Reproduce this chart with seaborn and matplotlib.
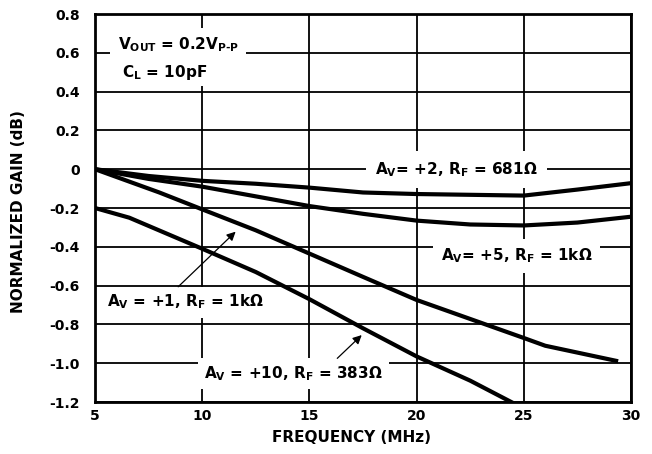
import matplotlib
matplotlib.use("Agg")
import matplotlib.pyplot as plt
import numpy as np
import pandas as pd
import seaborn as sns

# ---- data ----
freq_av2 = [5, 7.5, 10, 12.5, 15, 17.5, 20, 22.5, 25, 27.5, 30]
gain_av2 = [0, -0.035, -0.06, -0.075, -0.095, -0.12, -0.128, -0.132, -0.136, -0.105, -0.072]

freq_av5 = [5, 7.5, 10, 12.5, 15, 17.5, 20, 22.5, 25, 27.5, 30]
gain_av5 = [0, -0.05, -0.09, -0.14, -0.19, -0.23, -0.265, -0.285, -0.29, -0.275, -0.245]

freq_av1 = [5, 6.5, 8, 10, 12.5, 15, 17.5, 20, 22.5, 25, 26, 29.4]
gain_av1 = [0, -0.06, -0.12, -0.207, -0.315, -0.435, -0.555, -0.674, -0.772, -0.87, -0.91, -0.99]

freq_av10 = [5, 6.6, 10, 12.5, 15, 17.5, 20, 22.5, 24.5]
gain_av10 = [-0.2, -0.25, -0.41, -0.53, -0.67, -0.82, -0.965, -1.09, -1.205]

x_ticks = [5, 10, 15, 20, 25, 30]
y_ticks = [0.8, 0.6, 0.4, 0.2, 0, -0.2, -0.4, -0.6, -0.8, -1.0, -1.2]
y_tick_labels = ["0.8", "0.6", "0.4", "0.2", "0", "-0.2", "-0.4", "-0.6", "-0.8", "-1.0", "-1.2"]

series = [
    ("AV2", freq_av2, gain_av2),
    ("AV5", freq_av5, gain_av5),
    ("AV1", freq_av1, gain_av1),
    ("AV10", freq_av10, gain_av10),
]

sns.set_style("white")
plt.rcParams["font.family"] = ["DejaVu Sans"]
plt.rcParams["font.weight"] = "bold"
plt.rcParams["text.color"] = "black"
plt.rcParams["axes.labelcolor"] = "black"
plt.rcParams["xtick.color"] = "black"
plt.rcParams["ytick.color"] = "black"
plt.rcParams["mathtext.fontset"] = "custom"
plt.rcParams["mathtext.rm"] = "DejaVu Sans:bold"
plt.rcParams["mathtext.it"] = "DejaVu Sans:bold"
plt.rcParams["mathtext.bf"] = "DejaVu Sans:bold"
plt.rcParams["mathtext.default"] = "rm"

fig = plt.figure(figsize=(6.52, 4.54), dpi=100)
ax = fig.add_axes([95 / 652, 52 / 454, 536 / 652, 388 / 454])

for name, f, g in series:
    df = pd.DataFrame({"freq": f, "gain": g})
    sns.lineplot(data=df, x="freq", y="gain", color="black", linewidth=3.0,
                 sort=False, ax=ax, zorder=4, solid_capstyle="butt")

ax.set_xlim(5, 30)
ax.set_ylim(-1.2, 0.8)
ax.set_xticks(x_ticks)
ax.set_xticklabels([str(t) for t in x_ticks])
ax.set_yticks(y_ticks)
ax.set_yticklabels(y_tick_labels)
ax.tick_params(axis="both", length=0, labelsize=10, labelcolor="black")
ax.tick_params(axis="y", pad=11)
ax.tick_params(axis="x", pad=5)
ax.grid(True, color="black", linewidth=1.3)
ax.set_axisbelow(True)
for s in ax.spines.values():
    s.set_linewidth(2.0)
    s.set_color("black")
    s.set_zorder(5)

ax.set_xlabel("FREQUENCY (MHz)", fontsize=11, fontweight="bold", color="black")
ax.set_ylabel("NORMALIZED GAIN (dB)", fontsize=11, fontweight="bold", color="black")
ax.xaxis.set_label_coords((352 - 95) / 536, -(430 - 402) / 388)
ax.yaxis.set_label_coords(-(95 - 26) / 536, 0.49)

ax.text(6.07, 0.64, r"V$_{\rm OUT}$ = 0.2V$_{\rm P\text{-}P}$", fontsize=11,
        ha="left", va="center", bbox=dict(facecolor="white", edgecolor="none",
                                          boxstyle="square,pad=0.5"), zorder=3)
ax.text(6.25, 0.5, r"C$_{\rm L}$ = 10pF", fontsize=11, ha="left", va="center",
        bbox=dict(facecolor="white", edgecolor="none", boxstyle="square,pad=0.3"), zorder=3)

ax.text(21.84, 0.0, r"A$_{\rm V}$= +2, R$_{\rm F}$ = 681Ω", fontsize=11,
        ha="center", va="center", bbox=dict(facecolor="white", edgecolor="none",
                                             boxstyle="square,pad=0.6"), zorder=3)
ax.text(24.66, -0.445, r"A$_{\rm V}$= +5, R$_{\rm F}$ = 1kΩ", fontsize=11,
        ha="center", va="center", bbox=dict(facecolor="white", edgecolor="none",
                                             boxstyle="square,pad=0.5"), zorder=3)
ax.text(9.2, -0.685, r"A$_{\rm V}$ = +1, R$_{\rm F}$ = 1kΩ", fontsize=11,
        ha="center", va="center", bbox=dict(facecolor="white", edgecolor="none",
                                             boxstyle="square,pad=0.4"), zorder=3)
ax.text(14.26, -1.055, r"A$_{\rm V}$ = +10, R$_{\rm F}$ = 383Ω", fontsize=11,
        ha="center", va="center", bbox=dict(facecolor="white", edgecolor="none",
                                             boxstyle="square,pad=0.4"), zorder=3)

arrow = dict(arrowstyle="-|>", color="black", lw=0.9, mutation_scale=13,
             shrinkA=0, shrinkB=0)
ax.annotate("", xy=(11.56, -0.322), xytext=(8.88, -0.606), arrowprops=arrow, zorder=6)
ax.annotate("", xy=(17.44, -0.855), xytext=(16.30, -0.975), arrowprops=arrow, zorder=6)

fig.savefig("out.png", dpi=100)
